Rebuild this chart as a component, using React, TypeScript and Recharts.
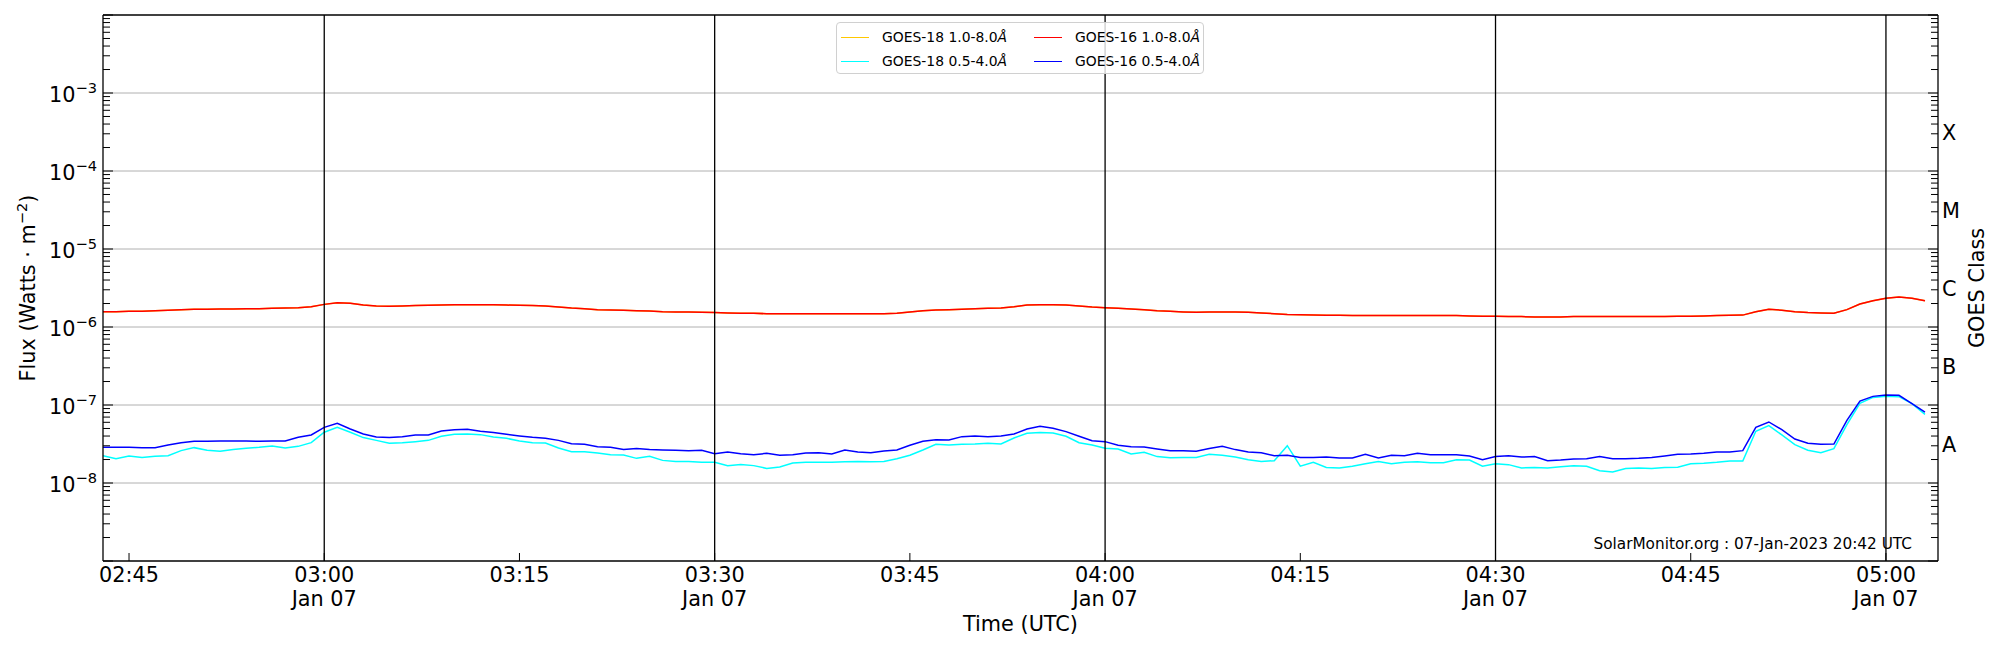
import { LineChart, Line, XAxis, YAxis, ReferenceLine, Legend } from 'recharts';

const FONT = '"DejaVu Sans", sans-serif';
const BIG = 20.8;
const SUP = 14.6;

// GOES 1-minute samples, first one at 02:43 UTC
const startMinute = 163;

// GOES-16 1.0-8.0 Å, in 1e-6 W m^-2
const goes16Long = [
  1.57, 1.57, 1.59, 1.59, 1.62, 1.64, 1.67, 1.69, 1.69, 1.7,
  1.7, 1.72, 1.72, 1.74, 1.75, 1.77, 1.82, 1.95, 2.05, 2.01,
  1.91, 1.86, 1.84, 1.86, 1.88, 1.9, 1.91, 1.93, 1.93, 1.93,
  1.93, 1.91, 1.9, 1.88, 1.86, 1.8, 1.75, 1.72, 1.67, 1.65,
  1.64, 1.62, 1.6, 1.57, 1.56, 1.56, 1.54, 1.53, 1.51, 1.5,
  1.5, 1.48, 1.48, 1.48, 1.48, 1.48, 1.48, 1.48, 1.48, 1.48,
  1.48, 1.5, 1.56, 1.62, 1.65, 1.67, 1.69, 1.72, 1.74, 1.75,
  1.82, 1.91, 1.93, 1.93, 1.91, 1.86, 1.8, 1.77, 1.74, 1.7,
  1.67, 1.62, 1.59, 1.56, 1.54, 1.56, 1.56, 1.56, 1.54, 1.51,
  1.48, 1.45, 1.44, 1.42, 1.41, 1.41, 1.4, 1.4, 1.4, 1.4,
  1.4, 1.4, 1.4, 1.4, 1.4, 1.38, 1.37, 1.37, 1.36, 1.36,
  1.34, 1.34, 1.34, 1.36, 1.36, 1.36, 1.36, 1.36, 1.36, 1.36,
  1.36, 1.37, 1.37, 1.38, 1.4, 1.41, 1.42, 1.57, 1.69, 1.64,
  1.57, 1.53, 1.51, 1.5, 1.67, 1.97, 2.17, 2.33, 2.42, 2.33, 2.17,
];

// GOES-18 1.0-8.0 Å sits right under the GOES-16 curve, reads the same
const goes18Long = [...goes16Long];

// GOES-16 0.5-4.0 Å, in 1e-8 W m^-2
const goes16Short = [
  2.87, 2.87, 2.87, 2.84, 2.84, 3.07, 3.29, 3.43, 3.43, 3.46,
  3.46, 3.46, 3.43, 3.46, 3.46, 3.85, 4.13, 5.17, 5.82, 4.93,
  4.25, 3.89, 3.82, 3.93, 4.13, 4.13, 4.64, 4.83, 4.88, 4.6,
  4.43, 4.21, 4.01, 3.85, 3.74, 3.52, 3.19, 3.13, 2.92, 2.87,
  2.68, 2.76, 2.68, 2.65, 2.63, 2.6, 2.63, 2.37, 2.49, 2.37,
  2.3, 2.4, 2.27, 2.3, 2.42, 2.44, 2.35, 2.65, 2.49, 2.44,
  2.57, 2.65, 3.04, 3.43, 3.59, 3.55, 3.93, 4.01, 3.93, 4.01,
  4.25, 4.93, 5.33, 5.03, 4.56, 3.97, 3.48, 3.39, 3.04, 2.92,
  2.89, 2.73, 2.6, 2.6, 2.55, 2.76, 2.95, 2.68, 2.49, 2.44,
  2.24, 2.27, 2.13, 2.13, 2.15, 2.09, 2.09, 2.33, 2.09, 2.27,
  2.24, 2.4, 2.3, 2.3, 2.3, 2.22, 1.99, 2.18, 2.24, 2.15,
  2.18, 1.93, 1.97, 2.03, 2.05, 2.18, 2.05, 2.05, 2.07, 2.13,
  2.22, 2.33, 2.35, 2.4, 2.49, 2.49, 2.6, 5.17, 6.06, 4.83,
  3.66, 3.23, 3.13, 3.16, 6.36, 11.2, 12.9, 13.4, 13.3, 10.4, 8.1,
];

// GOES-18 0.5-4.0 Å, in 1e-8 W m^-2
const goes18Short = [
  2.24, 2.05, 2.22, 2.13, 2.2, 2.24, 2.6, 2.84, 2.63, 2.55,
  2.68, 2.79, 2.87, 2.98, 2.81, 2.95, 3.29, 4.47, 5.17, 4.47,
  3.82, 3.52, 3.23, 3.29, 3.39, 3.52, 3.97, 4.21, 4.25, 4.17,
  3.89, 3.74, 3.46, 3.29, 3.26, 2.81, 2.52, 2.52, 2.42, 2.3,
  2.28, 2.07, 2.2, 1.95, 1.89, 1.89, 1.85, 1.85, 1.67, 1.73,
  1.67, 1.54, 1.6, 1.8, 1.84, 1.84, 1.85, 1.87, 1.89, 1.87,
  1.89, 2.05, 2.27, 2.65, 3.13, 3.07, 3.13, 3.16, 3.23, 3.16,
  3.78, 4.34, 4.43, 4.38, 3.97, 3.29, 3.07, 2.79, 2.73, 2.35,
  2.47, 2.18, 2.11, 2.13, 2.13, 2.33, 2.27, 2.15, 1.99, 1.89,
  1.93, 3.01, 1.64, 1.84, 1.58, 1.56, 1.64, 1.76, 1.89, 1.77,
  1.85, 1.87, 1.82, 1.82, 1.99, 1.97, 1.64, 1.77, 1.72, 1.56,
  1.58, 1.56, 1.62, 1.66, 1.64, 1.44, 1.38, 1.53, 1.56, 1.53,
  1.58, 1.59, 1.76, 1.79, 1.84, 1.91, 1.91, 4.6, 5.44, 4.13,
  3.1, 2.63, 2.44, 2.76, 5.6, 10.5, 12.5, 12.9, 12.8, 10.4, 7.6,
];

const xTicks = [165, 180, 195, 210, 225, 240, 255, 270, 285, 300];
const xTickLabels = ['02:45', '03:00', '03:15', '03:30', '03:45', '04:00', '04:15', '04:30', '04:45', '05:00'];
const dateTicks = [180, 210, 240, 270, 300];
const dateLabel = 'Jan 07';

const decadeExps = [-9, -8, -7, -6, -5, -4, -3];
const labelledExps = [-8, -7, -6, -5, -4, -3];
const minorMantissas = [2, 3, 4, 5, 6, 7, 8, 9];
const classLabels = ['A', 'B', 'C', 'M', 'X'];
const classExps = [-7.5, -6.5, -5.5, -4.5, -3.5];

const series = [
  { key: 'g18l', name: 'GOES-18 1.0-8.0', color: '#ffc800' },
  { key: 'g18s', name: 'GOES-18 0.5-4.0', color: '#00ffff' },
  { key: 'g16l', name: 'GOES-16 1.0-8.0', color: '#ff0000' },
  { key: 'g16s', name: 'GOES-16 0.5-4.0', color: '#0000ff' },
];

const data = goes16Long.map((v, i) => ({
  t: startMinute + i,
  g18l: goes18Long[i] * 1e-6,
  g18s: goes18Short[i] * 1e-8,
  g16l: v * 1e-6,
  g16s: goes16Short[i] * 1e-8,
}));

const yTicks: number[] = [];
decadeExps.forEach((k) => {
  yTicks.push(Number(`1e${k}`));
  minorMantissas.forEach((m) => yTicks.push(Number(`${m}e${k}`)));
});
yTicks.push(1e-2);
const classValues = classExps.map((e) => Math.pow(10, e));

function isDecade(v: number) {
  const lg = Math.log10(v);
  return Math.abs(lg - Math.round(lg)) < 1e-6;
}

function XTick({ x, y, payload }: any) {
  const label = xTickLabels[xTicks.indexOf(payload.value)];
  const withDate = dateTicks.includes(payload.value);
  return (
    <g>
      <line x1={x} x2={x} y1={y} y2={y - 8} stroke="#000" strokeWidth={1} />
      <text x={x} y={y + 21} textAnchor="middle" fontSize={BIG} fontFamily={FONT} fill="#000">
        {label}
        {withDate && (
          <tspan x={x} dy={24}>
            {dateLabel}
          </tspan>
        )}
      </text>
    </g>
  );
}

function LeftTick({ x, y, payload }: any) {
  const v = payload.value;
  const major = isDecade(v);
  const exp = Math.round(Math.log10(v));
  return (
    <g>
      <line x1={x} x2={x + (major ? 10 : 7)} y1={y} y2={y} stroke="#000" strokeWidth={1} />
      {major && labelledExps.includes(exp) && (
        <text x={x - 6} y={y + 9} textAnchor="end" fontSize={BIG} fontFamily={FONT} fill="#000">
          10
          <tspan fontSize={SUP} dy={-9}>
            {'\u2212' + Math.abs(exp)}
          </tspan>
        </text>
      )}
    </g>
  );
}

function RightTick({ x, y, payload }: any) {
  const v = payload.value;
  const ci = classValues.findIndex((c) => Math.abs(c - v) / c < 1e-6);
  if (ci >= 0) {
    return (
      <text x={x + 4} y={y + 7.5} fontSize={BIG} fontFamily={FONT} fill="#000">
        {classLabels[ci]}
      </text>
    );
  }
  return <line x1={x} x2={x - (isDecade(v) ? 10 : 7)} y1={y} y2={y} stroke="#000" strokeWidth={1} />;
}

function LegendBox() {
  const cols = [4, 197];
  return (
    <div
      style={{
        position: 'relative',
        width: 368,
        height: 52,
        boxSizing: 'border-box',
        border: '1px solid #d0d0d0',
        borderRadius: 4,
        background: 'rgba(255,255,255,0.8)',
        fontFamily: FONT,
        fontSize: 13.9,
        color: '#000',
      }}
    >
      {series.map((s, i) => (
        <div
          key={s.key}
          style={{
            position: 'absolute',
            left: cols[Math.floor(i / 2)],
            top: 2 + (i % 2) * 24,
            height: 24,
            display: 'flex',
            alignItems: 'center',
            whiteSpace: 'nowrap',
          }}
        >
          <span style={{ display: 'inline-block', width: 28, borderTop: `1.5px solid ${s.color}`, marginRight: 13 }} />
          <span>
            {s.name}
            <span style={{ fontStyle: 'italic' }}>Å</span>
          </span>
        </div>
      ))}
    </div>
  );
}

export default function App() {
  const textStyle = { fontFamily: FONT, fill: '#000' };
  return (
    <div style={{ position: 'relative', width: 2000, height: 650, background: '#fff' }}>
      <style>{'body{margin:0;}'}</style>
      <LineChart width={2000} height={650} data={data} margin={{ top: 15, right: 20, bottom: 20, left: 20 }}>
        <XAxis
          dataKey="t"
          type="number"
          domain={[163, 304]}
          allowDataOverflow
          ticks={xTicks}
          interval={0}
          tickSize={0}
          tickMargin={0}
          tickLine={false}
          tick={(p: any) => <XTick {...p} />}
          axisLine={{ stroke: '#000', strokeWidth: 1.3 }}
          height={69}
        />
        <YAxis
          yAxisId="left"
          type="number"
          scale="log"
          domain={[1e-9, 1e-2]}
          allowDataOverflow
          ticks={yTicks}
          interval={0}
          tickSize={0}
          tickMargin={0}
          tickLine={false}
          tick={(p: any) => <LeftTick {...p} />}
          axisLine={{ stroke: '#000', strokeWidth: 1.3 }}
          width={83}
        />
        <YAxis
          yAxisId="right"
          orientation="right"
          type="number"
          scale="log"
          domain={[1e-9, 1e-2]}
          allowDataOverflow
          ticks={[...yTicks, ...classValues]}
          interval={0}
          tickSize={0}
          tickMargin={0}
          tickLine={false}
          tick={(p: any) => <RightTick {...p} />}
          axisLine={{ stroke: '#000', strokeWidth: 1.3 }}
          width={42}
        />
        {labelledExps.map((k) => (
          <ReferenceLine key={`h${k}`} yAxisId="left" y={Number(`1e${k}`)} stroke="#b0b0b0" strokeWidth={1} />
        ))}
        <ReferenceLine yAxisId="left" y={1e-2} stroke="#000" strokeWidth={1.3} />
        {series.map((s) => (
          <Line
            key={s.key}
            yAxisId="left"
            type="linear"
            dataKey={s.key}
            name={s.name}
            stroke={s.color}
            strokeWidth={1.5}
            dot={false}
            activeDot={false}
            isAnimationActive={false}
          />
        ))}
        {dateTicks.map((t) => (
          <ReferenceLine key={`v${t}`} yAxisId="left" x={t} stroke="#000" strokeWidth={1.3} />
        ))}
        <Legend
          layout="horizontal"
          verticalAlign="middle"
          align="center"
          wrapperStyle={{ top: 22, left: 836, width: 368, height: 52 }}
          content={() => <LegendBox />}
        />
      </LineChart>
      <svg width={2000} height={650} style={{ position: 'absolute', left: 0, top: 0, pointerEvents: 'none' }}>
        <text transform="translate(35,288) rotate(-90)" textAnchor="middle" fontSize={BIG} style={textStyle}>
          Flux (Watts · m
          <tspan fontSize={SUP} dy={-8}>
            −2
          </tspan>
          <tspan dy={8}>)</tspan>
        </text>
        <text transform="translate(1984,288) rotate(-90)" textAnchor="middle" fontSize={BIG} style={textStyle}>
          GOES Class
        </text>
        <text x={1020.5} y={631} textAnchor="middle" fontSize={BIG} style={textStyle}>
          Time (UTC)
        </text>
        <text x={1912} y={549} textAnchor="end" fontSize={15.3} style={textStyle}>
          SolarMonitor.org : 07-Jan-2023 20:42 UTC
        </text>
      </svg>
    </div>
  );
}
